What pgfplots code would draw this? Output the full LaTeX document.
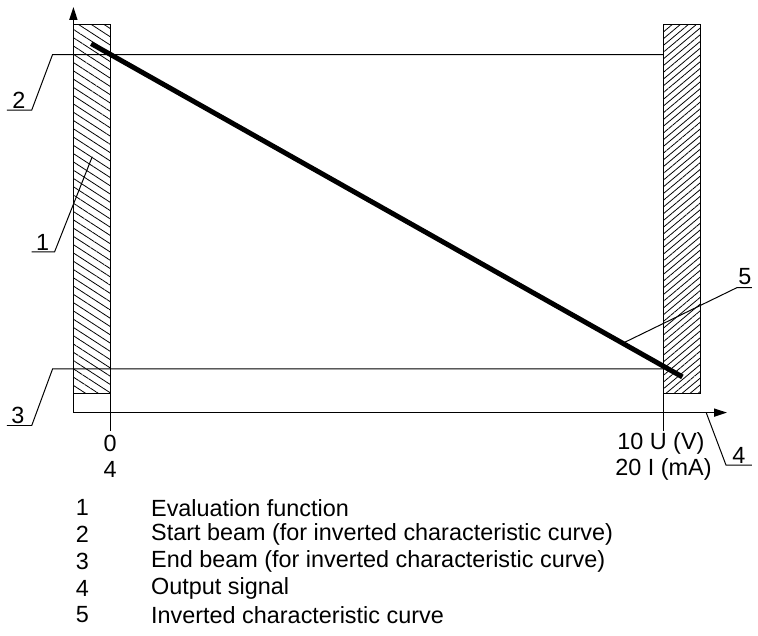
\documentclass[border=0pt]{standalone}
\usepackage{fontspec}
\setmainfont{Liberation Sans}
\usepackage{pgfplots}
\pgfplotsset{compat=1.18}
\usetikzlibrary{patterns.meta, arrows.meta}
\newcommand\lf{\fontsize{11.8}{14}\selectfont}
\begin{document}
\begin{tikzpicture}[font=\lf]
\begin{axis}[
  x=0.5pt, y=0.5pt, y dir=reverse,
  xmin=0, xmax=758, ymin=0, ymax=641,
  hide axis, clip=false,
]
% frame for page size
\addplot[draw=none, forget plot] coordinates {(0,0) (758,641)};
% hatched regions
\addplot[draw=black, line width=0.6pt, pattern={Lines[angle=-33, distance=3.5pt, line width=0.4pt]}]
  coordinates {(74,25) (111,25) (111,397) (74,397)} -- cycle;
\addplot[draw=black, line width=0.6pt, pattern={Lines[angle=40, distance=2.6pt, line width=0.4pt]}]
  coordinates {(669,25) (706,25) (706,397) (669,397)} -- cycle;
% beams with leaders
\addplot[black, line width=0.5pt] coordinates {(7,111) (32,111) (53,55) (669,55)};
\addplot[black, line width=0.5pt] coordinates {(7,429) (32,429) (53,372) (669,372)};
% leader 1
\addplot[black, line width=0.5pt] coordinates {(32,254) (55,254) (93,158)};
% leader 5
\addplot[black, line width=0.5pt] coordinates {(758,290) (743,290) (628,346)};
% leader 4
\addplot[black, line width=0.5pt] coordinates {(712,416) (732,469) (758,469)};
% ticks
\addplot[black, line width=0.6pt] coordinates {(111,397) (111,435)};
\addplot[black, line width=0.6pt] coordinates {(669,397) (669,435)};
% axes
\addplot[black, line width=0.8pt, -{Triangle[length=6.5pt, width=4pt]}] coordinates {(74,416) (74,7)};
\addplot[black, line width=0.8pt, -{Triangle[length=6.5pt, width=4pt]}] coordinates {(74,416) (733,416)};
% inverted characteristic curve
\addplot[black, line width=2.5pt] coordinates {(92,44) (688,380)};
% labels
\node[font=\lf] at (axis cs:19,101) {2};
\node[font=\lf] at (axis cs:43,244) {1};
\node[font=\lf] at (axis cs:18,419) {3};
\node[font=\lf] at (axis cs:751,279) {5};
\node[font=\lf] at (axis cs:745,459) {4};
\node[font=\lf] at (axis cs:111,447) {0};
\node[font=\lf] at (axis cs:111,473) {4};
\node[font=\lf, anchor=west, inner sep=0pt] at (axis cs:622,447) {10 U (V)};
\node[font=\lf, anchor=west, inner sep=0pt] at (axis cs:620,473) {20 I (mA)};
% legend
\node[font=\lf] at (axis cs:83,512) {1};
\node[font=\lf] at (axis cs:83,539) {2};
\node[font=\lf] at (axis cs:83,566) {3};
\node[font=\lf] at (axis cs:83,593) {4};
\node[font=\lf] at (axis cs:83,620) {5};
\node[font=\lf, anchor=west, inner sep=0pt] at (axis cs:152,512) {Evaluation function};
\node[font=\lf, anchor=west, inner sep=0pt] at (axis cs:152,539) {Start beam (for inverted characteristic curve)};
\node[font=\lf, anchor=west, inner sep=0pt] at (axis cs:152,566) {End beam (for inverted characteristic curve)};
\node[font=\lf, anchor=west, inner sep=0pt] at (axis cs:152,593) {Output signal};
\node[font=\lf, anchor=west, inner sep=0pt] at (axis cs:152,620) {Inverted characteristic curve};
\end{axis}
\end{tikzpicture}
\end{document}
